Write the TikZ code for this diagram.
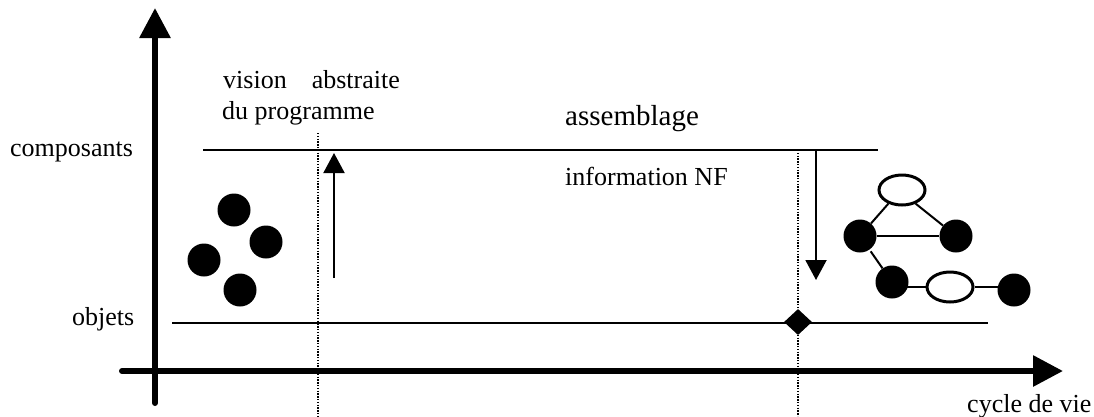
\documentclass[tikz,border=0pt]{standalone}
\usepackage{fontspec}
\setmainfont{Liberation Serif}
\usetikzlibrary{arrows.meta,shapes.geometric}
\begin{document}
\begin{tikzpicture}[x=1pt,y=-1pt,
  lbl/.style={anchor=base west,inner sep=0pt,font=\fontsize{26}{31}\selectfont},
  bigaxis/.style={line width=6pt,line cap=round,-{Triangle[length=30pt,width=30pt]}},
  level/.style={line width=2.2pt},
  guide/.style={line width=1.2pt,dash pattern=on 1.4pt off 1.4pt},
  move/.style={line width=2pt,-{Triangle[length=20pt,width=21pt]}},
  obj/.style={circle,fill=black,inner sep=0pt,minimum size=33pt},
  comp/.style={ellipse,draw=black,line width=3pt,fill=white,inner sep=0pt,minimum width=46pt,minimum height=30pt},
  link/.style={line width=2pt}]
\useasboundingbox (0,0) rectangle (1094,416);

% axes
\coordinate (yb) at (155,403);
\coordinate (yt) at (155,8);
\coordinate (xl) at (122,371);
\coordinate (xr) at (1063,371);
\draw[bigaxis] (yb) -- (yt);
\draw[bigaxis] (xl) -- (xr);

% abstraction levels
\coordinate (cl) at (203,150);
\coordinate (cr) at (878,150);
\coordinate (ol) at (172,323);
\coordinate (or) at (988,323);
\draw[level] (cl) -- (cr);
\draw[level] (ol) -- (or);

% phase boundaries
\coordinate (g1t) at (318,133);
\coordinate (g1b) at (318,416);
\coordinate (g2t) at (798,150);
\coordinate (g2b) at (798,416);
\draw[guide] (g1t) -- (g1b);
\draw[guide] (g2t) -- (g2b);

\node[diamond,fill=black,inner sep=0pt,minimum width=28pt,minimum height=26pt] (dm) at (798,322) {};

% transitions
\coordinate (ua) at (334,278);
\coordinate (ub) at (334,153);
\coordinate (da) at (816,151);
\coordinate (db) at (816,280);
\draw[move] (ua) -- (ub);
\draw[move] (da) -- (db);

% labels
\node[lbl] (tcomp) at (10,156) {composants};
\node[lbl] (tobj) at (72,325) {objets};
\node[lbl] (tvis) at (223,88) {vision\hspace{25pt}abstraite};
\node[lbl] (tprog) at (222,119) {du programme};
\node[lbl,font=\fontsize{29}{34}\selectfont] (tass) at (565,125) {assemblage};
\node[lbl] (tinf) at (565,185) {information NF};
\node[lbl] (tcyc) at (967,412) {cycle de vie};

% loose objects
\node[obj] (o1) at (234,210) {};
\node[obj] (o2) at (266,242) {};
\node[obj] (o3) at (204,260) {};
\node[obj] (o4) at (240,290) {};

% assembled components
\node[comp] (e1) at (902,190) {};
\node[obj] (a1) at (860,236) {};
\node[obj] (a2) at (956,236) {};
\node[obj] (a3) at (892,282) {};
\node[comp] (e2) at (950,287) {};
\node[obj] (a4) at (1014,290) {};
\draw[link] (e1.225) -- (a1);
\draw[link] (e1.315) -- (a2);
\draw[link] (a1) -- (a2);
\draw[link,shorten <=2pt] (a1) -- (a3);
\draw[link] (a3 |- e2.west) -- (e2.west);
\draw[link] (e2.east) -- (a4 |- e2.east);
\end{tikzpicture}
\end{document}
